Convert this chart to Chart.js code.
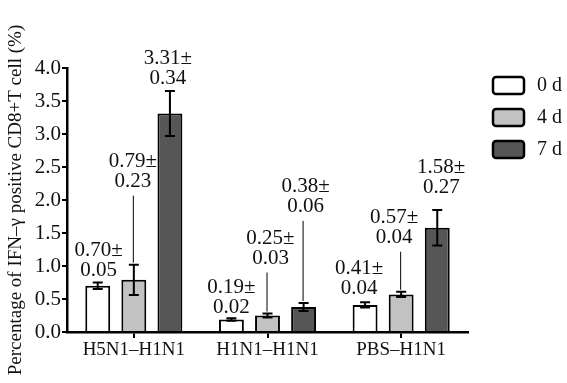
<!DOCTYPE html>
<html>
<head>
<meta charset="utf-8">
<script src="https://cdn.jsdelivr.net/npm/chart.js@4.4.1/dist/chart.umd.min.js"></script>
<style>
  html,body{margin:0;padding:0;background:#fff}
  #wrap{width:567px;height:383px;position:relative}
</style>
</head>
<body>
<div id="wrap"><canvas id="chart"></canvas></div>
<script>
// --- Data ---
const categories = ['H5N1–H1N1', 'H1N1–H1N1', 'PBS–H1N1'];
const seriesNames = ['0 d', '4 d', '7 d'];
const day0 = [0.70, 0.19, 0.41];
const day0Err = [0.05, 0.02, 0.04];
const day4 = [0.79, 0.25, 0.57];
const day4Err = [0.23, 0.03, 0.04];
const day7 = [3.31, 0.38, 1.58];
const day7Err = [0.34, 0.06, 0.27];
const yTicks = [0, 0.5, 1.0, 1.5, 2.0, 2.5, 3.0, 3.5, 4.0];
const yTitle = 'Percentage of IFN–γ positive CD8+T cell (%)';

// --- Style ---
const FONT = "'Liberation Serif', 'Times New Roman', 'DejaVu Serif', serif";
const fills = ['#ffffff', '#c2c2c2', '#565656'];
// label placement: px above error-bar top (centre of 2nd line), horizontal nudge
const labelLift = [[12, 11, 14], [83, 55, 54], [13, 96, 22]];
const labelDx = [[1, 0, -6], [-1, 3, -7], [-2, 2, 4]];

const barExtras = {
  id: 'barExtras',
  afterDatasetsDraw(chart) {
    const ctx = chart.ctx, y = chart.scales.y;
    ctx.save();
    chart.data.datasets.forEach((ds, di) => {
      const meta = chart.getDatasetMeta(di);
      meta.data.forEach((bar, i) => {
        const v = ds.data[i], e = ds.errors[i];
        const x = bar.x;
        const top = y.getPixelForValue(v + e), bot = y.getPixelForValue(v - e);
        // error bar
        ctx.strokeStyle = '#000'; ctx.lineWidth = 2;
        ctx.beginPath();
        ctx.moveTo(x, top); ctx.lineTo(x, bot);
        ctx.moveTo(x - 5, top); ctx.lineTo(x + 5, top);
        ctx.moveTo(x - 5, bot); ctx.lineTo(x + 5, bot);
        ctx.stroke();
        // value label
        const lift = labelLift[di][i];
        const ly2 = top - lift, ly1 = ly2 - 20;
        const lx = x + labelDx[di][i];
        ctx.fillStyle = '#111';
        ctx.font = '21px ' + FONT;
        ctx.textAlign = 'center'; ctx.textBaseline = 'middle';
        ctx.fillText(v.toFixed(2) + '±', lx, ly1);
        ctx.fillText(e.toFixed(2), lx, ly2);
        if (lift > 30) {
          ctx.lineWidth = 1;
          ctx.beginPath();
          ctx.moveTo(x - 0.5, ly2 + 14); ctx.lineTo(x - 0.5, top - 2);
          ctx.stroke();
        }
      });
    });
    ctx.restore();
  }
};

const legendBoxes = {
  id: 'legendBoxes',
  afterDraw(chart) {
    const ctx = chart.ctx, a = chart.chartArea;
    ctx.save();
    chart.data.datasets.forEach((ds, i) => {
      const bx = a.right + 25, by = 77 + i * 32;
      ctx.beginPath();
      ctx.roundRect(bx, by, 31, 17, 3);
      ctx.fillStyle = ds.backgroundColor; ctx.fill();
      ctx.lineWidth = 2.5; ctx.strokeStyle = '#000'; ctx.stroke();
      ctx.fillStyle = '#111';
      ctx.font = '20px ' + FONT;
      ctx.textAlign = 'left'; ctx.textBaseline = 'middle';
      ctx.fillText(ds.label, bx + 44, by + 9);
    });
    ctx.restore();
  }
};

const seriesVals = [day0, day4, day7];
const seriesErrs = [day0Err, day4Err, day7Err];

function draw() {
  new Chart(document.getElementById('chart'), {
    type: 'bar',
    data: {
      labels: categories,
      datasets: seriesNames.map((name, i) => ({
        label: name,
        data: seriesVals[i],
        errors: seriesErrs[i],
        backgroundColor: fills[i],
        borderColor: '#000',
        borderWidth: 2,
        borderSkipped: 'bottom',
        categoryPercentage: 0.81,
        barPercentage: 0.69
      }))
    },
    options: {
      responsive: true,
      maintainAspectRatio: false,
      animation: false,
      layout: { padding: { top: 68, right: 99, bottom: 0, left: 0 } },
      plugins: { legend: { display: false }, tooltip: { enabled: false } },
      scales: {
        x: {
          afterFit: s => { s.height = 51; },
          grid: { drawOnChartArea: false, offset: false, color: '#000', lineWidth: 2, tickLength: 6 },
          border: { display: true, color: '#000', width: 2.5 },
          ticks: { color: '#111', font: { family: FONT, size: 19 }, padding: 1 }
        },
        y: {
          min: 0, max: 4,
          afterFit: s => { s.width = 67; },
          afterBuildTicks: s => { s.ticks = yTicks.map(v => ({ value: v })); },
          grid: { drawOnChartArea: false, color: '#000', lineWidth: 2, tickLength: 5 },
          border: { display: true, color: '#000', width: 2.5 },
          ticks: { color: '#111', font: { family: FONT, size: 21 }, padding: 1, callback: v => Number(v).toFixed(1) },
          title: { display: true, text: yTitle, color: '#111', font: { family: FONT, size: 19 }, padding: { top: 5, bottom: 0 } }
        }
      }
    },
    plugins: [barExtras, legendBoxes]
  });
}

Promise.all([
  document.fonts.load("20px 'Liberation Serif'"),
  document.fonts.load("20px 'Times New Roman'")
]).catch(() => {}).then(draw);
</script>
</body>
</html>
